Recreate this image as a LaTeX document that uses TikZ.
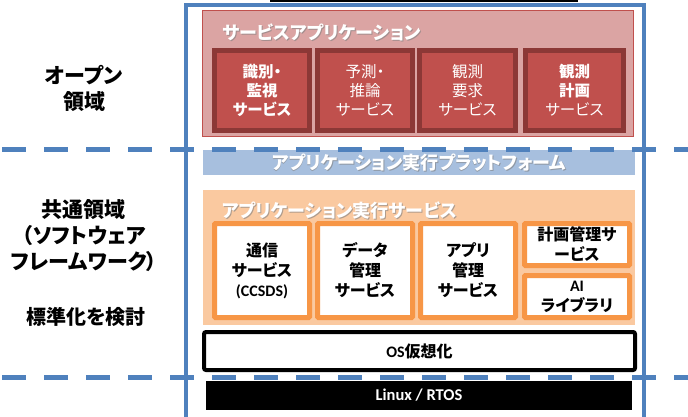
\documentclass[tikz,border=0pt]{standalone}
\usepackage{fontspec}
\setmainfont{Noto Sans CJK JP}[RawFeature=+palt]
\newfontfamily\lat{Carlito}
\definecolor{frameblue}{HTML}{4F81BD}
\definecolor{pinkbg}{HTML}{DBA4A3}
\definecolor{redfill}{HTML}{C0504D}
\definecolor{redborder}{HTML}{8C3836}
\definecolor{platblue}{HTML}{A7BFDE}
\definecolor{orangebg}{HTML}{FAC9A0}
\definecolor{orangeborder}{HTML}{F79646}
\definecolor{shadowgray}{HTML}{7F7F7F}
\tikzset{
  redbox/.style={draw=redborder, line width=5pt, fill=redfill, text=white, align=center,
    font=\fontsize{15.5}{19}\selectfont, inner sep=0pt},
  orbox/.style={draw=orangeborder, line width=5pt, fill=white, text=black, align=center,
    font=\fontsize{16}{20}\selectfont\bfseries, inner sep=0pt, rounded corners=1pt},
  sidelabel/.style={align=center, font=\fontsize{21}{26}\selectfont\bfseries, text=black},
  titletext/.style={font=\fontsize{18}{20}\selectfont\bfseries, text=white, inner sep=0pt},
  titleshadow/.style={font=\fontsize{18}{20}\selectfont\bfseries, text=shadowgray, inner sep=0pt, opacity=0.6},
  bluedash/.style={draw=frameblue, line width=5pt, dash pattern=on 24pt off 18pt, dash phase=-2pt},
}
\begin{document}
\begin{tikzpicture}[x=1pt,y=-1pt]
\useasboundingbox (0,0) rectangle (688,417);

% top black bar (cut off)
\coordinate (tb1) at (270,0.8);
\coordinate (tb2) at (578,0.8);
\draw[line width=2pt] (tb1) -- (tb2);

% service application area
\node[draw=redfill, line width=1pt, fill=pinkbg, minimum width=431pt, minimum height=126pt, inner sep=0pt] (sa) at (418,73.5) {};
\node[titleshadow, anchor=west] (sats) at (223,33) {サービスアプリケーション};
\node[titletext, anchor=west] (sat) at (222,32) {サービスアプリケーション};

\node[redbox, minimum width=95pt, minimum height=80pt] (r1) at (262,90.5) {\bfseries 識別・\\\bfseries 監視\\\bfseries サービス};
\node[redbox, minimum width=95pt, minimum height=80pt] (r2) at (365,90.5) {予測・\\推論\\サービス};
\node[redbox, minimum width=96pt, minimum height=80pt] (r3) at (467.5,90.5) {観測\\要求\\サービス};
\node[redbox, minimum width=98pt, minimum height=80pt] (r4) at (574.5,90.5) {\bfseries 観測\\\bfseries 計画\\サービス};

% platform
\node[fill=platblue, minimum width=432pt, minimum height=25pt, inner sep=0pt] (plat) at (419,162.5) {};
\node[titleshadow] (plats) at (419.8,163.3) {アプリケーション実行プラットフォーム};
\node[titletext] (platt) at (419,162.5) {アプリケーション実行プラットフォーム};

% application execution services
\node[fill=orangebg, minimum width=432pt, minimum height=135pt, inner sep=0pt] (aes) at (419,257.5) {};
\node[titleshadow, anchor=west] (aests) at (223,212) {アプリケーション実行サービス};
\node[titletext, anchor=west] (aest) at (222,211) {アプリケーション実行サービス};

\node[orbox, minimum width=95pt, minimum height=94pt] (o1) at (262,270.5) {通信\\サービス\\{\lat\bfseries (CCSDS)}};
\node[orbox, minimum width=95pt, minimum height=94pt] (o2) at (365,270.5) {データ\\管理\\サービス};
\node[orbox, minimum width=95pt, minimum height=94pt] (o3) at (468,270.5) {アプリ\\管理\\サービス};
\node[orbox, minimum width=105pt, minimum height=42pt] (o4) at (577,244.5) {計画管理サ\\ービス};
\node[orbox, minimum width=105pt, minimum height=42pt] (o5) at (577,296.5) {{\lat\bfseries AI}\\ライブラリ};

% OS virtualization
\node[draw=black, line width=4pt, fill=white, rounded corners=2pt, minimum width=431pt, minimum height=38pt,
  inner sep=0pt, font=\fontsize{16}{18}\selectfont\bfseries] (os) at (419.5,351) {{\lat OS}仮想化};

% Linux / RTOS
\node[fill=black, text=white, minimum width=426pt, minimum height=29pt, inner sep=0pt,
  font=\lat\fontsize{16.5}{18}\selectfont\bfseries] (linux) at (419,395.5) {Linux / RTOS};

% blue frame
\coordinate (fbl) at (186,417);
\coordinate (ftl) at (186,5);
\coordinate (ftr) at (644,5);
\coordinate (fbr) at (644,417);
\draw[frameblue, line width=3.5pt] (fbl) -- (ftl) -- (ftr) -- (fbr);

% dashed boundaries
\coordinate (d1a) at (0,150);
\coordinate (d1b) at (688,150);
\coordinate (d2a) at (0,377);
\coordinate (d2b) at (688,377);
\draw[bluedash] (d1a) -- (d1b);
\draw[bluedash] (d2a) -- (d2b);

% side labels
\node[sidelabel] (open) at (84,88) {オープン\\領域};
\node[sidelabel] (common) at (84,236) {共通領域\\（ソフトウェア\\フレームワーク）};
\node[sidelabel, font=\fontsize{20}{22}\selectfont\bfseries] (std) at (86,317) {標準化を検討};
\end{tikzpicture}
\end{document}
